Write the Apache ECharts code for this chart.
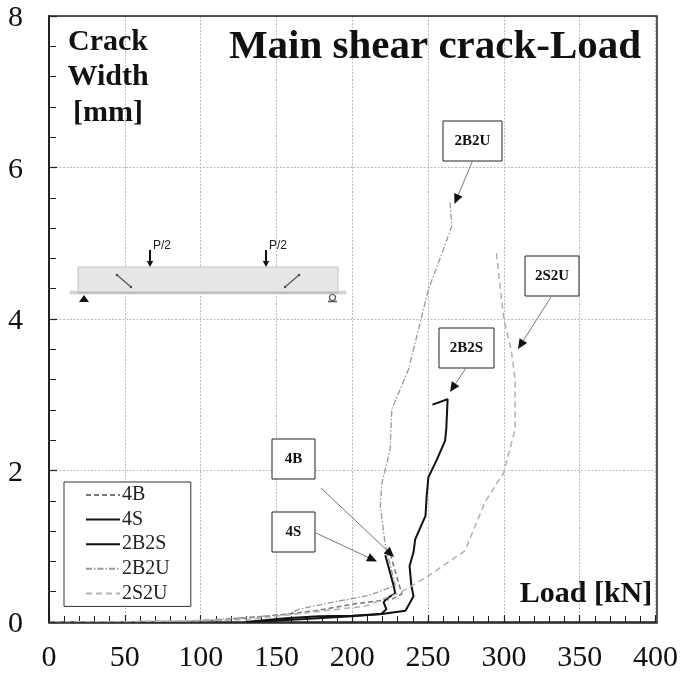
<!DOCTYPE html>
<html><head><meta charset="utf-8">
<style>html,body{margin:0;padding:0;background:#fff}#c{width:681px;height:673px}</style>
<script src="https://cdn.jsdelivr.net/npm/echarts@6/dist/echarts.min.js"></script>
</head><body><div id="c"></div>
<script>
const xTicks = [0,50,100,150,200,250,300,350,400];
const yTicks = [0,2,4,6,8];
const s4B = [[225,0.9],[232.7,0.37],[226,0.3],[202,0.24],[175.8,0.15],[158,0.105],[143,0.075],[110,0.02],[99,0.01],[60,0.005],[0,0]];
const s4S = [[221.8,0.88],[227.3,0.48],[228.3,0.38],[222.2,0.30],[220.7,0.26],[222.5,0.17],[219.2,0.105],[199.7,0.075],[169,0.04],[132,0]];
const s2B2S = [[252.9,2.87],[262.9,2.94],[262,2.54],[261.2,2.39],[255.5,2.13],[250.2,1.91],[249.1,1.67],[248.3,1.40],[241.5,1.09],[240.4,0.92],[237.8,0.74],[239,0.48],[240.4,0.34],[235.1,0.15],[219.4,0.105],[199.7,0.083],[178,0.075],[156,0.05],[130,0]];
const s2B2U = [[264.5,5.54],[265.6,5.22],[260.1,4.92],[250.2,4.39],[244.8,3.95],[237,3.33],[226.1,2.81],[225,2.28],[219.6,1.84],[218.5,1.53],[221.8,1.01],[228.4,0.48],[210.8,0.35],[186.7,0.26],[165,0.17],[158,0.105],[130,0.06],[90,0.01],[0,0]];
const s2S2U = [[295.1,4.87],[300,3.99],[304.8,3.6],[307.4,3.2],[307.4,2.54],[299.5,1.95],[296.2,1.86],[287.5,1.58],[274.3,0.94],[250.2,0.61],[232.7,0.40],[208.7,0.21],[162.7,0.105],[130,0.03],[60,0.005],[0,0]];
const legendNames = ['4B','4S','2B2S','2B2U','2S2U'];
const serif = '"Liberation Serif","Times New Roman",serif';
const sans = '"Liberation Sans",Arial,sans-serif';

function label(x,y,t,size){return {type:'text',z:10,x,y,silent:true,style:{text:t,font:`bold ${size}px ${serif}`,fill:'#111',textAlign:'center',textVerticalAlign:'middle'}};}
function box(x,y,w,h,t){return [{type:'rect',shape:{x,y,width:w,height:h},style:{fill:'#fff',stroke:'#222',lineWidth:1},z:20},
  {type:'text',z:21,x:x+w/2,y:y+h/2,style:{text:t,font:`bold 15px ${serif}`,fill:'#111',textAlign:'center',textVerticalAlign:'middle'}}];}
function arrow(x1,y1,x2,y2){const a=Math.atan2(y2-y1,x2-x1),l=10,w=4.5,bx=x2-l*Math.cos(a),by=y2-l*Math.sin(a),nx=-Math.sin(a)*w,ny=Math.cos(a)*w;
  return [{type:'line',z:20,shape:{x1,y1,x2:bx,y2:by},style:{stroke:'#777',lineWidth:1}},
  {type:'polygon',z:20,shape:{points:[[x2,y2],[bx+nx,by+ny],[bx-nx,by-ny]]},style:{fill:'#111'}}];}
function beam(){const g=[];
  g.push({type:'rect',z:10,shape:{x:70,y:291,width:276,height:3},style:{fill:'#d4d6d4',stroke:'#c4c6c4',lineWidth:.5}});
  g.push({type:'rect',z:10,shape:{x:78,y:267,width:260,height:26},style:{fill:'#e6e8e7',stroke:'#c2c4c3',lineWidth:1}});
  g.push({type:'line',z:10,shape:{x1:78,y1:292.5,x2:338,y2:292.5},style:{stroke:'#bbb',lineWidth:2}});
  [[117,275,131,287],[299,275,285,287]].forEach(c=>{
    g.push({type:'line',z:11,shape:{x1:c[0],y1:c[1],x2:c[2],y2:c[3]},style:{stroke:'#555',lineWidth:1.2}});
    g.push({type:'circle',z:11,shape:{cx:c[0],cy:c[1],r:1.2},style:{fill:'#444'}});
    g.push({type:'circle',z:11,shape:{cx:c[2],cy:c[3],r:1.2},style:{fill:'#444'}});});
  [150,266].forEach(x=>{g.push({type:'line',z:11,shape:{x1:x,y1:250,x2:x,y2:263},style:{stroke:'#111',lineWidth:2}});
    g.push({type:'polygon',z:11,shape:{points:[[x,267],[x-3.2,261],[x+3.2,261]]},style:{fill:'#111'}});
    g.push({type:'text',z:11,x:x+3,y:245.5,style:{text:'P/2',font:`12px ${sans}`,fill:'#222',textVerticalAlign:'middle'}});});
  g.push({type:'polygon',z:11,shape:{points:[[84,295],[79,302],[89,302]]},style:{fill:'#111'}});
  g.push({type:'circle',z:11,shape:{cx:332.5,cy:297.5,r:3},style:{fill:'#fff',stroke:'#555',lineWidth:1.2}});
  g.push({type:'line',z:11,shape:{x1:328,y1:301.5,x2:337,y2:301.5},style:{stroke:'#555',lineWidth:1.5}});
  return g;}

const makeSeries=(name,data,color,type,width)=>({name,type:'line',data,symbol:'none',showSymbol:false,smooth:false,silent:true,
  lineStyle:{color,width,type},itemStyle:{color},z:5});

const chart = echarts.init(document.getElementById('c'),null,{renderer:'canvas'});
chart.setOption({
  animation:false,backgroundColor:'#fff',
  grid:{left:49,right:24,top:16,bottom:50,show:false},
  legend:{show:true,left:64,top:482,orient:'vertical',selectedMode:false,data:legendNames,
    itemWidth:34,itemHeight:10,itemGap:4.6,padding:[3,21,3,21],
    borderColor:'#333',borderWidth:1,backgroundColor:'#fff',z:15,
    itemStyle:{opacity:0},
    textStyle:{fontFamily:serif,fontSize:20,color:'#222',padding:[0,0,0,-3]}},
  xAxis:{type:'value',min:0,max:400,interval:50,
    axisLine:{show:true,onZero:false,lineStyle:{color:'#222',width:1.5}},
    axisTick:{show:true,inside:true,length:7,lineStyle:{color:'#222',width:1.2}},
    minorTick:{show:true,splitNumber:5,length:6,lineStyle:{color:'#222',width:1}},
    splitLine:{show:true,lineStyle:{color:'#bbb',type:[2,1.5],width:1}},
    axisLabel:{fontFamily:serif,fontSize:30,color:'#111',margin:21,showMinLabel:true,showMaxLabel:true,
      formatter:v=>xTicks.includes(v)?String(v):''}},
  yAxis:{type:'value',min:0,max:8,interval:2,
    axisLine:{show:true,onZero:false,lineStyle:{color:'#222',width:2}},
    axisTick:{show:true,inside:true,length:8,lineStyle:{color:'#222',width:1.2}},
    minorTick:{show:true,splitNumber:5,length:7,lineStyle:{color:'#222',width:1}},
    splitLine:{show:true,lineStyle:{color:'#bbb',type:[2,1.5],width:1}},
    axisLabel:{margin:26,
      rich:{d:{fontFamily:serif,fontSize:30,color:'#111',padding:[5,0,0,0]}},
      formatter:v=>yTicks.includes(v)?`{d|${v}}`:''}},
  series:[
    makeSeries('4B',s4B,'#777',[5,3],1.5),
    makeSeries('4S',s4S,'#111','solid',2),
    makeSeries('2B2S',s2B2S,'#111','solid',2),
    makeSeries('2B2U',s2B2U,'#999',[6,2,1.5,2],1.3),
    makeSeries('2S2U',s2S2U,'#b0b0b0',[6,4],1.5)
  ],
  graphic:{elements:[
    {type:'rect',shape:{x:49,y:16,width:608,height:607},style:{fill:'none',stroke:'#222',lineWidth:1.5},silent:true,z:6},
    label(435,47,'Main shear crack-Load',41),
    label(108,42,'Crack',30),label(108,77,'Width',30),label(108,113,'[mm]',30),
    label(586,594,'Load [kN]',30),
    ...beam(),
    ...box(443,121,59,40,'2B2U'),...box(525,256,54,40,'2S2U'),...box(439,328,55,40,'2B2S'),
    ...box(272,439,43,40,'4B'),...box(272,512,43,40,'4S'),
    ...arrow(472.5,161,454.5,204),...arrow(551,297,518,349),...arrow(466,368,450,392),
    ...arrow(321,488,394,557),...arrow(316,533,377,561.5)
  ]}
});
</script></body></html>
